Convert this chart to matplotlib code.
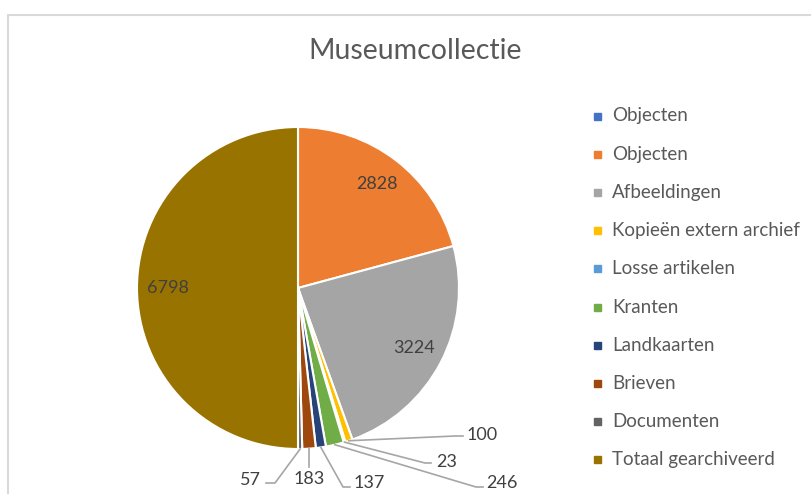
import matplotlib
matplotlib.use("Agg")
import matplotlib.pyplot as plt
import numpy as np
from matplotlib.patches import Rectangle
from matplotlib.lines import Line2D

W, H = 811, 494

labels = ["Objecten", "Objecten", "Afbeeldingen", "Kopieën extern archief",
          "Losse artikelen", "Kranten", "Landkaarten", "Brieven",
          "Documenten", "Totaal gearchiveerd"]
values = [0, 2828, 3224, 100, 23, 246, 137, 183, 57, 6798]
colors = ["#4472C4", "#ED7D31", "#A5A5A5", "#FFC000", "#5B9BD5",
          "#70AD47", "#264478", "#9E480E", "#636363", "#997300"]

TEXT = "#595959"
LABEL = "#404040"
plt.rcParams["font.family"] = ["Lato", "DejaVu Sans"]

# pie geometry in pixels
CX, CY, R = 298, 288, 161


def px(x, y):
    return (x - CX) / R, (CY - y) / R


fig = plt.figure(figsize=(W / 100, H / 100), dpi=100)
ax = fig.add_axes([(CX - R) / W, (H - CY - R) / H, 2 * R / W, 2 * R / H])
ax.pie(values, colors=colors, startangle=90, counterclock=False, radius=1,
       wedgeprops=dict(edgecolor="white", linewidth=1.5))
ax.set_xlim(-1, 1)
ax.set_ylim(-1, 1)
ax.axis("off")

total = sum(values)
cum = np.cumsum([0] + values)


def mid_angle(i):
    return np.deg2rad(90 - 360 * (cum[i] + values[i] / 2) / total)


# inside labels at mid-angle
for i in (1, 2, 9):
    a = mid_angle(i)
    ax.text(0.81 * np.cos(a), 0.81 * np.sin(a), str(values[i]),
            ha="center", va="center", fontsize=13, color=LABEL)

# outside labels with leader lines: (path points in px, text pos, ha)
outside = {
    3: ([(455, 436), (463, 436)], (467, 435), "left"),
    4: ([(425, 463), (431, 463)], (436, 462), "left"),
    5: ([(476, 487), (483, 487)], (486, 483), "left"),
    6: ([(343, 487), (350, 487)], (354, 483), "left"),
    7: ([(309, 467)], (309, 479), "center"),
    8: ([(275, 483), (266, 483)], (261, 480), "right"),
}
for i, (pts, (x, y), ha) in outside.items():
    a = mid_angle(i)
    xs = [np.cos(a)] + [px(*p)[0] for p in pts]
    ys = [np.sin(a)] + [px(*p)[1] for p in pts]
    ax.add_line(Line2D(xs, ys, color="#A6A6A6", lw=1.2, clip_on=False))
    tx, ty = px(x, y)
    ax.text(tx, ty, str(values[i]), ha=ha, va="center",
            fontsize=13, color=LABEL)

# title
fig.text(415 / W, 1 - 51 / H, "Museumcollectie", ha="center", va="center",
         fontsize=20.5, color=TEXT)

# legend
for k, (lab, col) in enumerate(zip(labels, colors)):
    y = 116 + k * 38.2
    fig.add_artist(Rectangle((594 / W, 1 - (y + 3.5) / H), 7 / W, 7 / H,
                             transform=fig.transFigure, color=col))
    fig.text(612 / W, 1 - y / H, lab, ha="left", va="center",
             fontsize=13.5, color=TEXT)

# chart border
fig.add_artist(Rectangle((8 / W, -0.1), 1.2, 1 - 15 / H + 0.1,
                         transform=fig.transFigure, fill=False,
                         edgecolor="#D9D9D9", lw=1.5))

fig.savefig("out.png", dpi=100, facecolor="white")
